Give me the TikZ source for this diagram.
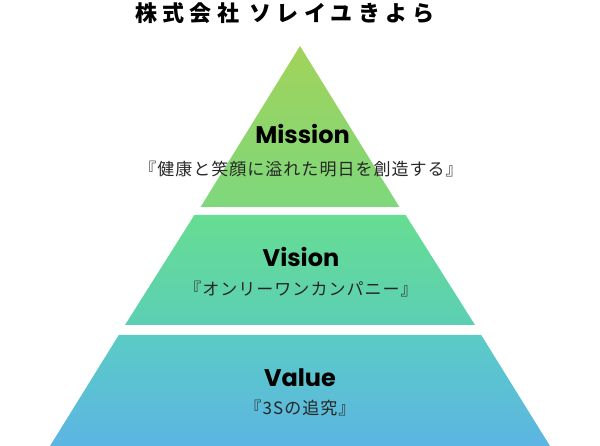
\documentclass[tikz,border=0pt]{standalone}
\usepackage{fontspec}
\usepackage{tikz}
\usetikzlibrary{positioning}
\newfontfamily\jpfont[LetterSpace=24]{Noto Sans CJK JP}
\newfontfamily\jpsubfont[LetterSpace=6]{Noto Sans CJK JP}
\newfontfamily\headfont{Poppins}
\definecolor{lvA}{HTML}{A2D35A}
\definecolor{lvB}{HTML}{7DD87C}
\definecolor{lvC}{HTML}{66DD92}
\definecolor{lvD}{HTML}{5CCFB4}
\definecolor{lvE}{HTML}{5BCBC5}
\definecolor{lvF}{HTML}{5CB5E3}
\tikzset{
  headtext/.style={font=\headfont\bfseries\fontsize{24}{26}\selectfont, inner sep=0pt, anchor=base},
  subtext/.style={font=\jpsubfont\fontsize{17}{19}\selectfont, text=black!85, inner sep=0pt, anchor=base}
}

\begin{document}
\begin{tikzpicture}[x=1pt, y=-1pt]
  \useasboundingbox (0,0) rectangle (600,446);
  % layers
  \shade[top color=lvA, bottom color=lvB] (300,46) -- (399.4,207) -- (200.6,207) -- cycle;
  \shade[top color=lvC, bottom color=lvD] (194.4,215) -- (405.6,215) -- (475,325) -- (125,325) -- cycle;
  \shade[top color=lvE, bottom color=lvF] (118.8,335) -- (481.2,335) -- (550,446) -- (50,446) -- cycle;

  \node[font=\jpfont\bfseries\fontsize{22}{24}\selectfont, inner sep=0pt, anchor=base] (title) at (285,21.3) {株式会社 ソレイユきよら};

  \node[headtext] (mission) at (302.5,143.3) {Mission};
  \node[subtext] (mission sub) at (301,175.5) {『健康と笑顔に溢れた明日を創造する』};
  \node[headtext] (vision) at (301,266.5) {Vision};
  \node[subtext] (vision sub) at (301,295.5) {『オンリーワンカンパニー』};
  \node[headtext] (value) at (300,386.7) {Value};
  \node[subtext] (value sub) at (300,414.5) {『3Sの追究』};
\end{tikzpicture}
\end{document}
